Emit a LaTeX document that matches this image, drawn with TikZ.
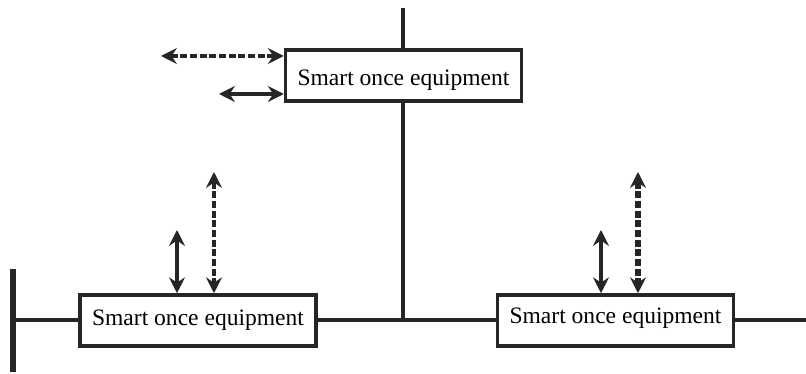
\documentclass[tikz,border=0pt]{standalone}
\usepackage{fontspec}
\setmainfont{Liberation Serif}
\usetikzlibrary{arrows.meta,positioning,calc}

\begin{document}
\begin{tikzpicture}[
    x=0.02cm, y=-0.02cm,
    eqbox/.style={rectangle, draw=black!85, line width=2pt, fill=white, minimum width=4.72cm, minimum height=1.02cm, inner sep=0pt, font=\fontsize{13.4}{15}\selectfont},
    bus/.style={draw=black!85, line width=1.9pt},
    ptr/.style={{Stealth[length=9pt,width=9pt,inset=3pt]}-{Stealth[length=9pt,width=9pt,inset=3pt]}, draw=black!85, line width=1.9pt},
    dptr/.style={ptr, dash pattern=on 4pt off 1.5pt}
]
    \useasboundingbox (0,0) rectangle (806,374);

    % Line work sits under the boxes
    \coordinate (trunktop) at (403,8);
    \coordinate (junction) at (403,320);
    \coordinate (bustop) at (13,269);
    \coordinate (busbot) at (13,372);
    \coordinate (busmid) at (13,320);
    \coordinate (lineend) at (806,320);

    \draw[bus] (trunktop) -- (junction);
    \draw[bus] (busmid) -- (lineend);
    \draw[bus, line width=3.2pt] (bustop) -- (busbot);

    \node[eqbox, text height=12pt, text depth=0.2pt] (top) at (403.5,75.5) {Smart once equipment};
    \node[eqbox] (left) at (198,320.5) {Smart once equipment};
    \node[eqbox, text height=7pt, text depth=3.2pt] (right) at (615.5,320.5) {Smart once equipment};

    % Free ends of the arrows
    \coordinate (topd) at (161,56);
    \coordinate (tops) at (219,94);
    \coordinate (lefts) at (177,230);
    \coordinate (leftd) at (214,172);
    \coordinate (rights) at (601,230);
    \coordinate (rightd) at (638,172);

    \draw[dptr] (topd) -- (topd -| top.west);
    \draw[ptr] (tops) -- (tops -| top.west);
    \draw[ptr] (lefts) -- (lefts |- left.north);
    \draw[dptr] (leftd) -- (leftd |- left.north);
    \draw[ptr] (rights) -- (rights |- right.north);
    \draw[dptr, line width=3.2pt] (rightd) -- (rightd |- right.north);
\end{tikzpicture}
\end{document}
